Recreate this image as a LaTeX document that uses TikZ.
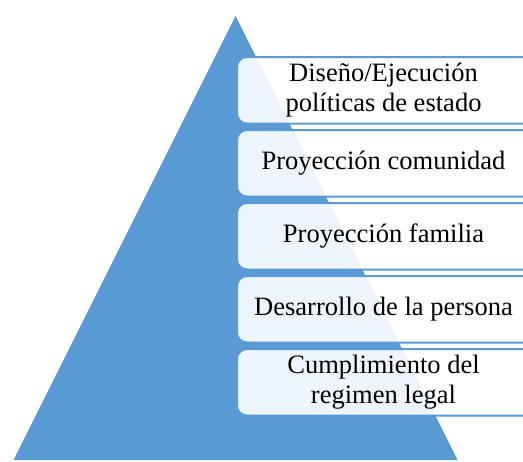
\documentclass[tikz,border=0pt]{standalone}
\usepackage{fontspec}
\setmainfont{Liberation Serif}
\usetikzlibrary{fit}
\definecolor{pyrblue}{HTML}{5B9BD5}
\begin{document}
\begin{tikzpicture}[x=0.75pt,y=-0.75pt,
  layerbox/.style={draw=pyrblue, line width=1.5pt, fill=white, fill opacity=0.9,
    rounded corners=7.5pt, inner sep=0pt},
  layertext/.style={inner sep=0pt, align=center, font=\fontsize{19.9}{22.5}\selectfont}]
\clip (0,0) rectangle (523,461);
\fill[white] (0,0) rectangle (523,461);
\coordinate (apex) at (235.5,16);
\coordinate (bl) at (13.5,460);
\coordinate (br) at (457.5,460);
\fill[pyrblue] (apex) -- (br) -- (bl) -- cycle;
\foreach \i/\t in {1/57,2/130,3/203,4/276,5/349}{
  \node[layerbox, fit={(237,\t) (550,\t+66.5)}] (b\i) {};
}
\node[layertext] (t1) at (383.5,90.25) {Diseño/Ejecución\\políticas de estado};
\node[layertext] (t2) at (383.5,163.25) {Proyección comunidad};
\node[layertext] (t3) at (383.5,236.25) {Proyección familia};
\node[layertext] (t4) at (383.5,309.25) {Desarrollo de la persona};
\node[layertext] (t5) at (383.5,382.25) {Cumplimiento del\\regimen legal};
\end{tikzpicture}
\end{document}
